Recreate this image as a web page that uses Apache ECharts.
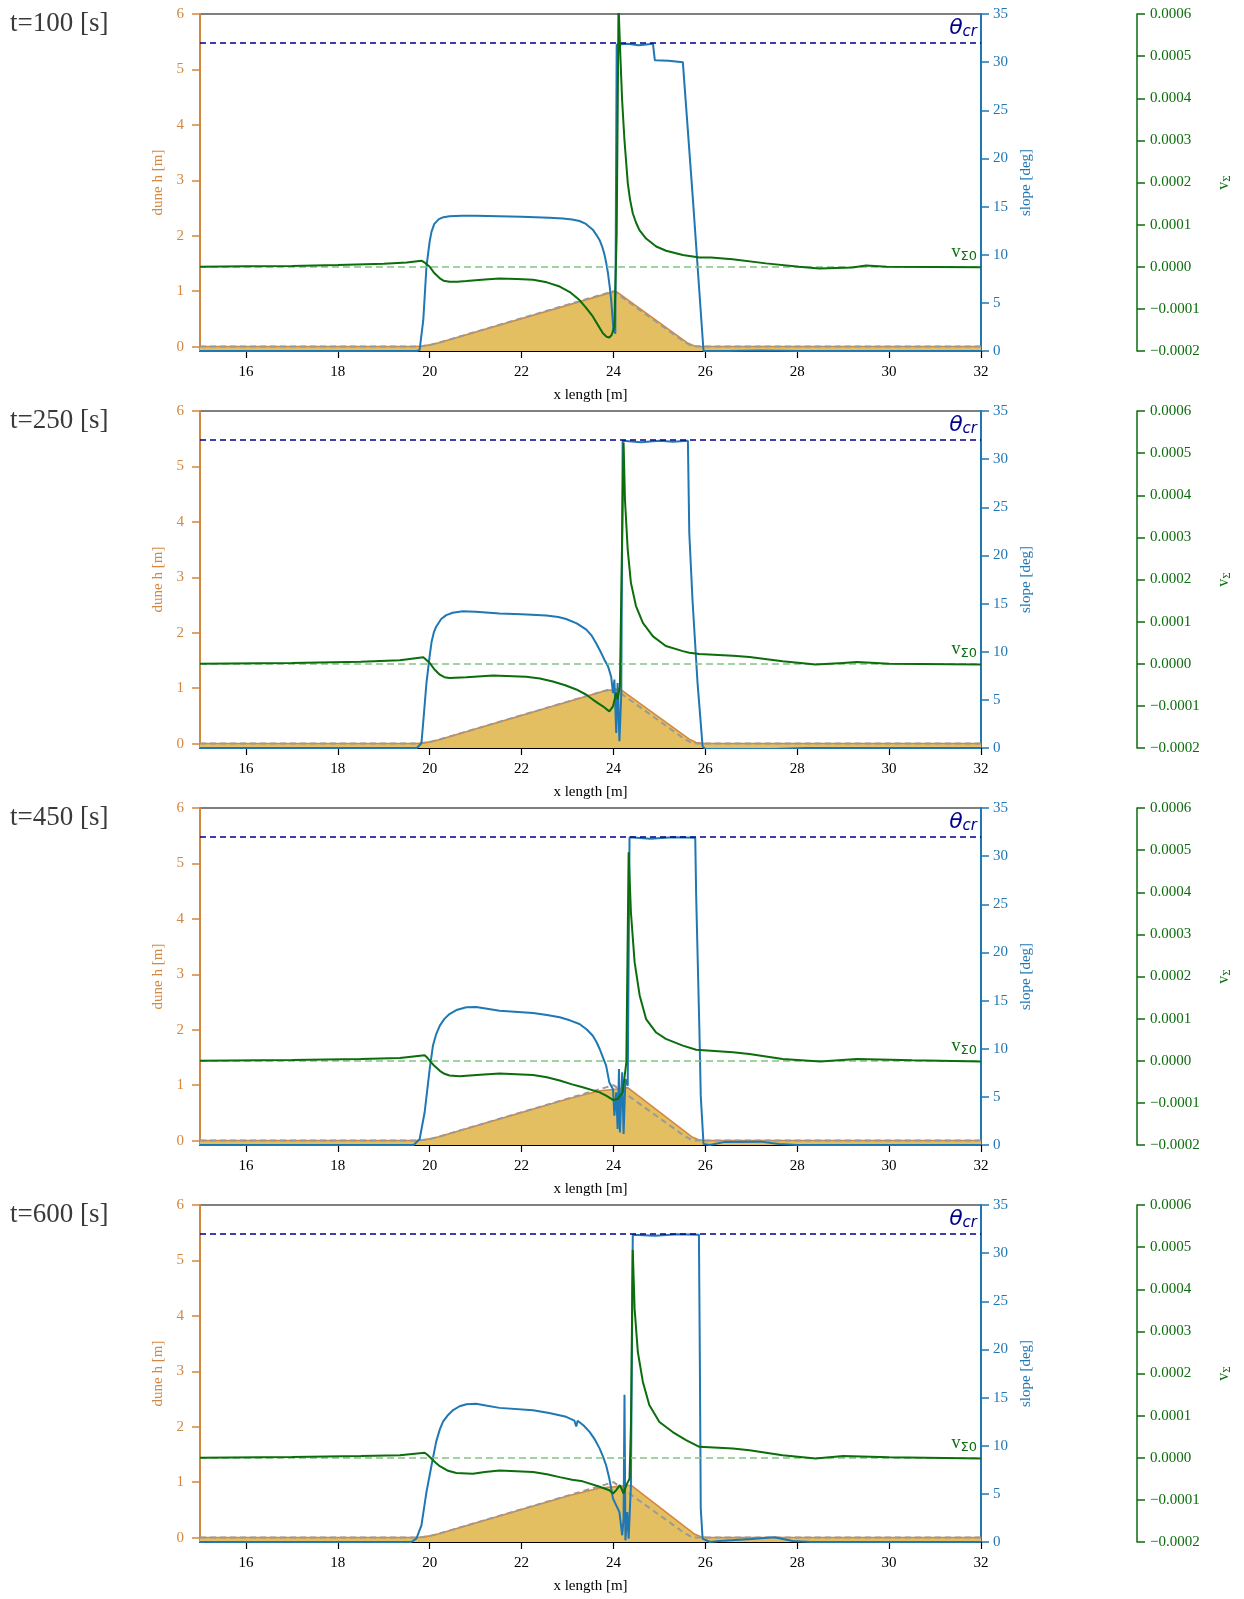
<!DOCTYPE html>
<html>
<head>
<meta charset="utf-8">
<script src="https://cdn.jsdelivr.net/npm/echarts@6/dist/echarts.min.js"></script>
<style>
html,body{margin:0;padding:0;background:#fff;}
#chart{width:1244px;height:1599px;}
</style>
</head>
<body>
<div id="chart"></div>
<script>
// ---------------- DATA ----------------
const TIMES = ['t=100 [s]', 't=250 [s]', 't=450 [s]', 't=600 [s]'];
const X_TICKS = [16, 18, 20, 22, 24, 26, 28, 30, 32];
const H_TICKS = [0, 1, 2, 3, 4, 5, 6];
const THETA_CR = 32;      // critical slope [deg]
const V_SIGMA0 = 0;       // reference v_Sigma (x1e-4)

// initial dune profile (gray dashed) [x, h]
const hInit = [[15,0],[19.7,0],[19.85,0.01],[20.0,0.03],[20.2,0.07],[24.0,1.0],[25.55,0.08],[25.68,0.02],[25.8,0],[32,0]];

// dune height h [m]
const h100 = [[15,0],[19.7,0],[19.85,0.01],[20.0,0.03],[20.2,0.07],[24.05,1.0],[25.6,0.07],[25.75,0.015],[25.9,0],[32,0]];
const h250 = [[15,0],[19.7,0],[19.85,0.01],[20.0,0.03],[20.2,0.07],[23.8,0.95],[24.0,0.97],[24.13,0.99],[25.65,0.08],[25.8,0.02],[25.95,0],[32,0]];
const h450 = [[15,0],[19.7,0],[19.85,0.01],[20.0,0.03],[20.2,0.07],[23.0,0.75],[23.7,0.9],[24.0,0.92],[24.31,0.955],[25.7,0.07],[25.85,0.015],[26.0,0],[32,0]];
const h600 = [[15,0],[19.7,0],[19.85,0.01],[20.0,0.03],[20.2,0.07],[23.0,0.75],[23.7,0.895],[24.0,0.915],[24.38,0.945],[25.75,0.07],[25.9,0.015],[26.05,0],[32,0]];

// slope [deg]
const s100 = [[15,0],[19.72,0],[19.78,0.1],[19.86,3.2],[19.93,8.8],[20.0,11.4],[20.04,12.4],[20.1,13.2],[20.2,13.7],[20.3,13.9],[20.43,14.0],[20.7,14.05],[21.0,14.05],[22.0,13.95],[22.6,13.85],[22.9,13.75],[23.1,13.65],[23.26,13.5],[23.4,13.2],[23.55,12.6],[23.65,11.9],[23.7,11.5],[23.75,10.9],[23.8,10.1],[23.84,9.2],[23.88,8.1],[23.92,6.6],[23.95,5.3],[24.0,2.2],[24.04,1.8],[24.07,31.8],[24.3,31.9],[24.55,31.75],[24.86,31.9],[24.9,30.2],[25.2,30.15],[25.51,30.0],[25.73,15.7],[25.96,0],[26.5,0],[27.2,0.05],[28,0],[32,0]];
const s250 = [[15,0],[19.72,0],[19.82,0.5],[19.87,3.3],[19.93,6.8],[20.0,9.6],[20.04,11.0],[20.09,12.0],[20.14,12.6],[20.25,13.4],[20.36,13.8],[20.5,14.05],[20.72,14.2],[21.0,14.15],[21.52,13.97],[22.0,13.9],[22.54,13.76],[22.8,13.6],[22.97,13.4],[23.2,12.95],[23.41,12.3],[23.52,11.7],[23.62,10.9],[23.72,10.0],[23.8,9.2],[23.88,8.5],[23.95,7.4],[23.99,5.7],[24.02,7.1],[24.06,1.56],[24.09,6.76],[24.13,0.7],[24.17,5.7],[24.2,31.9],[24.6,31.75],[25.0,31.9],[25.3,31.8],[25.62,31.9],[25.65,22.35],[25.72,15.4],[25.83,6.76],[25.94,0.17],[26.0,-0.1],[27.5,-0.1],[28.2,0],[32,0]];
const s450 = [[15,0],[19.65,0],[19.78,0.6],[19.89,3.4],[20.0,7.9],[20.07,10.3],[20.14,11.5],[20.22,12.4],[20.32,13.1],[20.43,13.6],[20.6,14.05],[20.8,14.3],[21.01,14.33],[21.25,14.15],[21.52,13.95],[22.25,13.7],[22.55,13.5],[22.83,13.26],[23.05,12.95],[23.26,12.57],[23.42,12.0],[23.55,11.35],[23.63,10.7],[23.7,9.97],[23.77,9.1],[23.84,8.24],[23.91,6.5],[23.99,5.8],[24.02,3.05],[24.06,5.47],[24.09,1.66],[24.12,7.9],[24.14,1.3],[24.19,7.55],[24.22,1.14],[24.26,6.85],[24.31,6.16],[24.35,31.95],[24.8,31.8],[25.3,31.95],[25.78,31.9],[25.8,25.9],[25.87,12.05],[25.9,5.1],[25.96,0.1],[26.1,0],[26.4,0.3],[27.2,0.35],[27.6,0.1],[28,0],[32,0]];
const s600 = [[15,0],[19.6,0],[19.71,0.35],[19.82,1.73],[19.93,5.2],[20.04,7.97],[20.14,10.4],[20.22,11.7],[20.29,12.5],[20.4,13.2],[20.51,13.7],[20.65,14.1],[20.8,14.3],[21.01,14.35],[21.25,14.15],[21.52,13.93],[22.25,13.69],[22.6,13.4],[22.97,13.0],[23.15,12.6],[23.19,12.0],[23.22,12.6],[23.35,12.1],[23.48,11.44],[23.6,10.6],[23.7,9.7],[23.77,8.9],[23.84,7.97],[23.91,6.6],[23.99,4.5],[24.06,3.8],[24.13,3.1],[24.19,0.7],[24.22,2.4],[24.24,15.3],[24.26,0.17],[24.3,3.1],[24.33,0.35],[24.38,5.9],[24.42,31.9],[24.9,31.8],[25.4,31.95],[25.86,31.9],[25.88,19],[25.9,3.47],[25.94,0.35],[26.1,0],[26.3,0.1],[27.0,0.3],[27.5,0.5],[27.9,0.1],[28.3,0],[32,0]];

// v_Sigma (in units of 1e-4)
const v100 = [[15,0.0],[16,0.01],[17,0.02],[18,0.04],[19,0.07],[19.5,0.1],[19.82,0.144],[19.9,0.09],[20.0,0.0],[20.1,-0.15],[20.22,-0.275],[20.3,-0.33],[20.43,-0.354],[20.6,-0.355],[20.8,-0.34],[21.2,-0.3],[21.52,-0.28],[21.9,-0.29],[22.25,-0.31],[22.55,-0.37],[22.83,-0.47],[23.05,-0.6],[23.26,-0.79],[23.4,-0.97],[23.55,-1.18],[23.66,-1.38],[23.77,-1.58],[23.85,-1.66],[23.91,-1.68],[23.96,-1.62],[24.02,-1.42],[24.07,0.79],[24.11,6.2],[24.145,5.15],[24.188,3.96],[24.239,3.01],[24.312,1.98],[24.36,1.6],[24.42,1.27],[24.49,1.05],[24.565,0.87],[24.71,0.67],[24.93,0.48],[25.145,0.38],[25.51,0.28],[25.87,0.22],[26.12,0.22],[26.59,0.18],[27.32,0.08],[28.04,0.0],[28.48,-0.04],[29.2,-0.02],[29.5,0.03],[29.95,0.0],[32,-0.01]];
const v250 = [[15,0.0],[17,0.02],[18.5,0.05],[19.35,0.083],[19.86,0.154],[19.93,0.09],[20.0,0.02],[20.1,-0.13],[20.22,-0.26],[20.32,-0.32],[20.43,-0.34],[20.8,-0.32],[21.38,-0.28],[22.1,-0.31],[22.4,-0.35],[22.68,-0.42],[22.95,-0.51],[23.19,-0.61],[23.4,-0.73],[23.55,-0.85],[23.67,-0.94],[23.77,-1.01],[23.91,-1.13],[23.99,-1.01],[24.06,-0.69],[24.09,-0.85],[24.14,-0.53],[24.19,3.1],[24.22,5.25],[24.25,3.9],[24.31,2.71],[24.38,1.92],[24.49,1.37],[24.64,0.97],[24.86,0.65],[25.14,0.42],[25.51,0.3],[25.65,0.26],[25.87,0.23],[26.6,0.19],[26.96,0.16],[27.68,0.06],[28.4,-0.02],[29.0,0.02],[29.3,0.04],[30,0.0],[32,-0.02]];
const v450 = [[15,0.0],[17,0.02],[18.5,0.04],[19.35,0.066],[19.89,0.13],[19.95,0.07],[20.0,0.0],[20.1,-0.12],[20.22,-0.24],[20.32,-0.31],[20.43,-0.35],[20.65,-0.37],[21.1,-0.33],[21.52,-0.3],[22.25,-0.34],[22.55,-0.39],[22.83,-0.47],[23.1,-0.56],[23.33,-0.63],[23.7,-0.75],[23.84,-0.83],[23.99,-0.93],[24.09,-0.91],[24.2,-0.75],[24.28,-0.04],[24.33,4.95],[24.38,3.52],[24.46,2.34],[24.57,1.55],[24.71,0.99],[24.93,0.67],[25.14,0.52],[25.51,0.36],[25.8,0.26],[26.6,0.2],[26.96,0.16],[27.68,0.04],[28.5,-0.02],[29.3,0.04],[30.5,0.01],[32,-0.02]];
const v600 = [[15,0.0],[17,0.02],[18.5,0.04],[19.35,0.06],[19.89,0.12],[19.95,0.07],[20.0,0.02],[20.1,-0.09],[20.22,-0.2],[20.4,-0.31],[20.58,-0.36],[20.94,-0.38],[21.2,-0.34],[21.52,-0.3],[22.25,-0.34],[22.55,-0.39],[22.83,-0.46],[23.1,-0.52],[23.33,-0.56],[23.7,-0.69],[23.91,-0.77],[23.99,-0.85],[24.06,-0.77],[24.14,-0.65],[24.22,-0.85],[24.28,-0.65],[24.35,-0.5],[24.38,0.77],[24.42,4.93],[24.46,3.54],[24.53,2.51],[24.64,1.8],[24.78,1.25],[25.0,0.85],[25.29,0.61],[25.58,0.42],[25.87,0.26],[26.6,0.22],[26.96,0.18],[27.68,0.06],[28.4,-0.02],[29.0,0.04],[30,0.01],[32,-0.02]];

const H_DATA = [h100, h250, h450, h600];
const S_DATA = [s100, s250, s450, s600];
const V_DATA = [v100, v250, v450, v600];

// ---------------- STYLE ----------------
const SERIF = 'Liberation Serif';
const SANS = 'DejaVu Sans';
const ORANGE = '#d3873f';
const FILL = '#e3bf62';
const BLUE = '#1f77b4';
const GREEN = '#0b6d0b';
const LGREEN = '#82c482';
const NAVY = '#00008b';
const GRAY = '#9a9a9a';

const GRID_TOPS = [14, 411, 808, 1205];
const GRID_H = 337;

const chart = echarts.init(document.getElementById('chart'), null, {renderer: 'canvas'});

const grids = [], xAxes = [], yAxes = [], series = [], titles = [];

function fmtV(v) {
  if (Math.abs(v) < 1e-9) return '0.0000';
  const s = (v * 1e-4).toFixed(4);
  return s.replace('-', '\u2212');
}

for (let i = 0; i < 4; i++) {
  grids.push({left: 200, width: 781, top: GRID_TOPS[i], height: GRID_H,
    show: true, borderColor: '#000', borderWidth: 1.2, backgroundColor: 'transparent', containLabel: false});
  titles.push({text: TIMES[i], left: 10, top: GRID_TOPS[i] - 4, padding: 0,
    textStyle: {fontFamily: SERIF, fontSize: 27, fontWeight: 'normal', color: '#3a3a3a'}});
  xAxes.push({gridIndex: i, type: 'value', min: 15, max: 32,
    axisLine: {onZero: false, lineStyle: {color: '#000', width: 1.2}},
    axisTick: {customValues: X_TICKS, length: 7, lineStyle: {color: '#000', width: 1.2}},
    axisLabel: {customValues: X_TICKS, margin: 14, color: '#000', fontSize: 15, fontFamily: SERIF},
    splitLine: {show: false},
    name: 'x length [m]', nameLocation: 'middle', nameGap: 37,
    nameTextStyle: {fontFamily: SERIF, fontSize: 15, color: '#000'}});
  // h axis
  yAxes.push({gridIndex: i, type: 'value', position: 'left', min: -0.08, max: 6,
    axisLine: {show: true, onZero: false, lineStyle: {color: ORANGE, width: 2}},
    axisTick: {show: true, customValues: H_TICKS, length: 8, lineStyle: {color: ORANGE, width: 1.5}},
    axisLabel: {customValues: H_TICKS, margin: 16, color: ORANGE, fontSize: 15, fontFamily: SERIF},
    splitLine: {show: false},
    name: 'dune h [m]', nameLocation: 'middle', nameGap: 34, nameRotate: 90,
    nameTextStyle: {fontFamily: SERIF, fontSize: 15, color: ORANGE}});
  // slope axis
  yAxes.push({gridIndex: i, type: 'value', position: 'right', min: 0, max: 35, interval: 5,
    axisLine: {show: true, onZero: false, lineStyle: {color: BLUE, width: 2}},
    axisTick: {show: true, length: 8, lineStyle: {color: BLUE, width: 1.5}},
    axisLabel: {margin: 12, color: BLUE, fontSize: 15, fontFamily: SERIF},
    splitLine: {show: false},
    name: 'slope [deg]', nameLocation: 'middle', nameGap: 38, nameRotate: 90,
    nameTextStyle: {fontFamily: SERIF, fontSize: 15, color: BLUE}});
  // v_Sigma axis (1e-4 units)
  yAxes.push({gridIndex: i, type: 'value', position: 'right', offset: 156, min: -2, max: 6, interval: 1,
    axisLine: {show: true, onZero: false, lineStyle: {color: GREEN, width: 1.5}},
    axisTick: {show: true, length: 8, lineStyle: {color: GREEN, width: 1.5}},
    axisLabel: {margin: 13, color: GREEN, fontSize: 15, fontFamily: SERIF, formatter: fmtV},
    splitLine: {show: false},
    name: '{v|v}{s|Σ}', nameLocation: 'middle', nameGap: 78, nameRotate: 90,
    nameTextStyle: {color: GREEN, rich: {
      v: {fontFamily: SERIF, fontSize: 16, color: GREEN, verticalAlign: 'middle'},
      s: {fontFamily: SERIF, fontSize: 11, color: GREEN, verticalAlign: 'middle', padding: [7, 0, 0, 0]}}}});

  const yH = 3 * i, yS = 3 * i + 1, yV = 3 * i + 2;
  series.push({type: 'line', xAxisIndex: i, yAxisIndex: yH, data: H_DATA[i], showSymbol: false, symbol: 'none',
    lineStyle: {color: ORANGE, width: 1.6}, areaStyle: {color: FILL, opacity: 1, origin: 'start'}, z: 2, silent: true});
  series.push({type: 'line', xAxisIndex: i, yAxisIndex: yH, data: hInit, showSymbol: false, symbol: 'none',
    lineStyle: {color: GRAY, width: 2, type: [6, 4]}, z: 3, silent: true});
  series.push({type: 'line', xAxisIndex: i, yAxisIndex: yS, data: S_DATA[i], showSymbol: false, symbol: 'none',
    lineStyle: {color: BLUE, width: 2}, z: 4, silent: true,
    markLine: {silent: true, symbol: 'none', animation: false,
      lineStyle: {color: NAVY, width: 1.6, type: [6, 4]},
      label: {show: true, position: 'insideEndTop', distance: [4, 3], formatter: '{t|θ}{s|cr}',
        rich: {t: {fontFamily: SANS, fontStyle: 'italic', fontSize: 22, color: NAVY, verticalAlign: 'middle'},
               s: {fontFamily: SANS, fontStyle: 'italic', fontSize: 15, color: NAVY, verticalAlign: 'middle', padding: [9, 0, 0, 0]}}},
      data: [{yAxis: THETA_CR}]}});
  series.push({type: 'line', xAxisIndex: i, yAxisIndex: yV, data: V_DATA[i], showSymbol: false, symbol: 'none',
    lineStyle: {color: GREEN, width: 2}, z: 5, silent: true,
    markLine: {silent: true, symbol: 'none', animation: false,
      lineStyle: {color: LGREEN, width: 1.5, type: [7, 4]},
      label: {show: true, position: 'insideEndTop', distance: [4, 4], formatter: '{v|v}{s|Σ0}',
        rich: {v: {fontFamily: SERIF, fontSize: 18, color: GREEN, verticalAlign: 'middle'},
               s: {fontFamily: SANS, fontSize: 13, color: GREEN, verticalAlign: 'middle', padding: [8, 0, 0, 0]}}},
      data: [{yAxis: V_SIGMA0}]}});
}

chart.setOption({
  animation: false,
  backgroundColor: '#fff',
  title: titles,
  grid: grids,
  xAxis: xAxes,
  yAxis: yAxes,
  series: series
});
</script>
</body>
</html>
